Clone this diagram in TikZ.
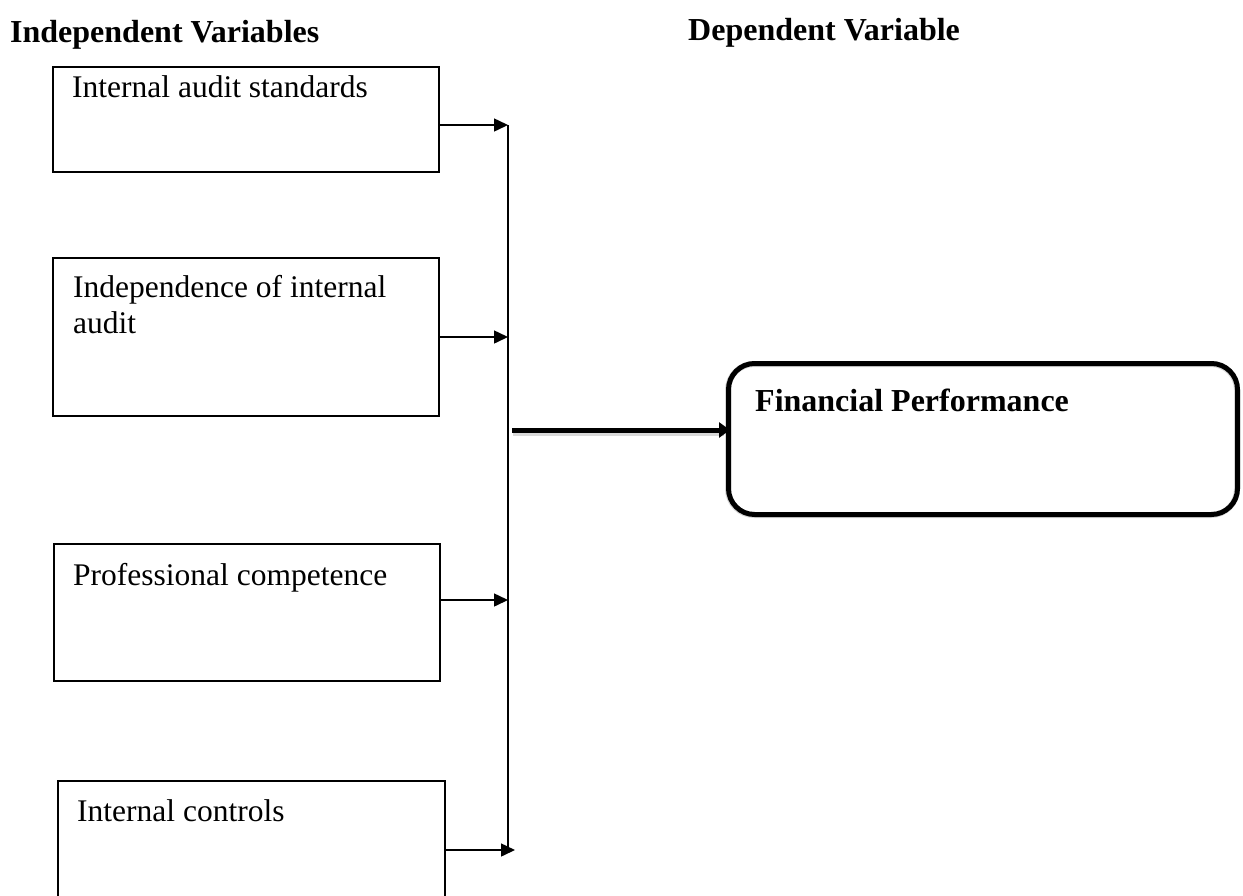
\documentclass[tikz,border=0pt]{standalone}
\usepackage{fontspec}
\setmainfont{Liberation Serif}
\usetikzlibrary{arrows.meta}
\begin{document}
\begin{tikzpicture}[x=1pt,y=-1pt,
  box/.style={draw, line width=1.5pt, inner sep=0pt, anchor=north west},
  fpbox/.style={draw, line width=5pt, rounded corners=26pt, inner sep=0pt, anchor=north west},
  txt/.style={anchor=base west, inner sep=0pt, font=\fontsize{31.5}{37}\selectfont},
  head/.style={anchor=base west, inner sep=0pt, font=\fontsize{32}{37}\selectfont\bfseries},
  arr/.style={line width=1.5pt, -{Triangle[length=14pt,width=13pt]}},
  bus/.style={line width=1.5pt},
  bigarr/.style={line width=5pt, -{Triangle[length=11pt,width=15pt]}},
  shade/.style={draw=black!25, line width=6pt, opacity=0.6}
]
\clip (0,0) rectangle (1243,895);
\fill[white] (0,0) rectangle (1243,895);

% headings
\node[head] (h1) at (10,42) {Independent Variables};
\node[head] (h2) at (688,40) {Dependent Variable};

% independent variable boxes
\node[box, minimum width=386pt, minimum height=105pt] (b1) at (52,66) {};
\node[txt] (t1) at (72,97) {Internal audit standards};

\node[box, minimum width=386pt, minimum height=158pt] (b2) at (52,257) {};
\node[txt] (t2a) at (73,297) {Independence of internal};
\node[txt] (t2b) at (73,333) {audit};

\node[box, minimum width=386pt, minimum height=137pt] (b3) at (53,543) {};
\node[txt] (t3) at (73,585) {Professional competence};

\node[box, minimum width=387pt, minimum height=130pt] (b4) at (57,780) {};
\node[txt] (t4) at (77,821) {Internal controls};

% faint shadows of the heavy elements
\draw[shade, rounded corners=26pt] (728,364) rectangle (1237,515);
\draw[shade] (513,433) -- (724,433);

% dependent variable box
\node[fpbox, minimum width=509pt, minimum height=151pt] (fp) at (726,361) {};
\node[head] (tf) at (755,411) {Financial Performance};

% junction coordinates on the bus
\coordinate (j1) at (508,125);
\coordinate (j2) at (508,337);
\coordinate (j3) at (508,600);
\coordinate (j4) at (515,850);
\coordinate (jb) at (508,850);
\coordinate (m) at (512,430);

\draw[bus] (j1) -- (jb);
\draw[arr] (b1.east |- j1) -- (j1);
\draw[arr] (b2.east |- j2) -- (j2);
\draw[arr] (b3.east |- j3) -- (j3);
\draw[arr] (b4.east |- j4) -- (j4);
\draw[bigarr] (m) -- ([xshift=4pt]fp.west |- m);
\end{tikzpicture}
\end{document}
